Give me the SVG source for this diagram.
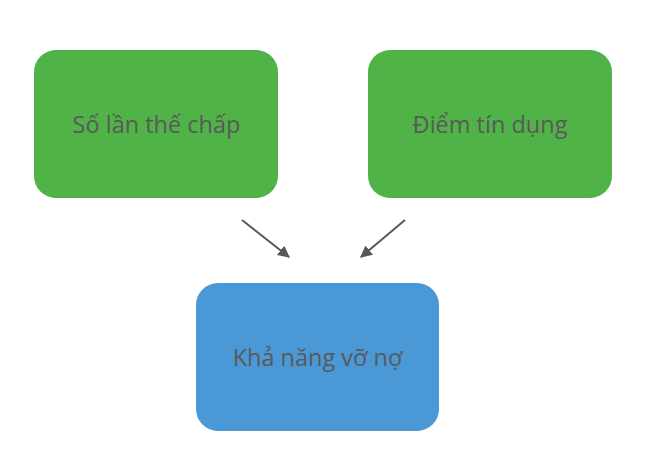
<svg xmlns="http://www.w3.org/2000/svg" width="659" height="474" viewBox="0 0 659 474">
<style>
.g{fill:#50b348}
.b{fill:#4b98d7}
.t{font-family:"Open Sans","Liberation Sans",sans-serif;font-size:23.5px;fill:#595959;text-anchor:middle}
.c{stroke:#595959;stroke-width:2;fill:none}
</style>
<defs>
<marker id="ah" viewBox="0 0 10 10" refX="9" refY="5" markerWidth="6" markerHeight="6" orient="auto" markerUnits="strokeWidth">
<path d="M0,0 L10,5 L0,10 z" fill="#595959"/>
</marker>
</defs>
<rect width="659" height="474" fill="#fff"/>
<g id="node1"><rect class="g" x="34" y="50" width="244" height="148" rx="22"/><text class="t" x="156.5" y="133">Số lần thế chấp</text></g>
<g id="node2"><rect class="g" x="368" y="50" width="244" height="148" rx="22"/><text class="t" x="490" y="133">Điểm tín dụng</text></g>
<g id="node3"><rect class="b" x="196" y="283" width="243" height="148" rx="22"/><text class="t" x="317.5" y="366">Khả năng vỡ nợ</text></g>
<g id="connectors">
<line class="c" x1="242" y1="220" x2="289" y2="257" marker-end="url(#ah)"/>
<line class="c" x1="405" y1="220" x2="361" y2="257" marker-end="url(#ah)"/>
</g>
</svg>
